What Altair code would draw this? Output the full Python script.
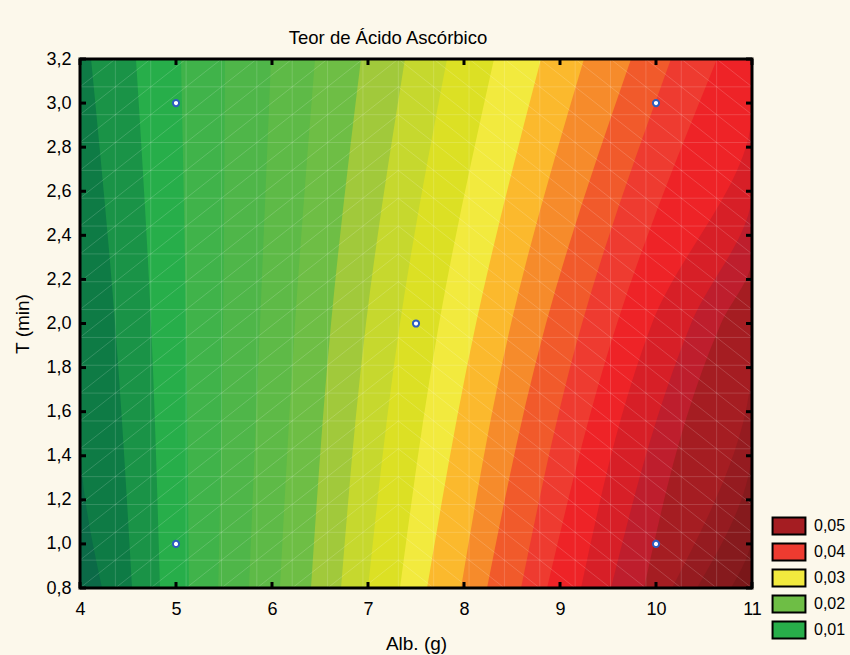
import altair as alt
import pandas as pd

# Axis ranges and tick values
x_domain = [4, 11]
t_domain = [0.8, 3.2]
x_ticks = [4, 5, 6, 7, 8, 9, 10, 11]
t_ticks = [0.8, 1.0, 1.2, 1.4, 1.6, 1.8, 2.0, 2.2, 2.4, 2.6, 2.8, 3.0, 3.2]

# Contour levels of ascorbic acid content; each band starts at its boundary line
band_levels = [0.0025, 0.005, 0.0075, 0.01, 0.0125, 0.015, 0.0175, 0.02,
               0.0225, 0.025, 0.0275, 0.03, 0.0325, 0.035, 0.0375, 0.04,
               0.0425, 0.045, 0.0475, 0.05, 0.0525, 0.055, 0.0575]
band_colors = ["#0B6A47", "#0E7B45", "#1A9347", "#27AE4A", "#40B34A", "#4FB649",
               "#5EBA47", "#6EBE45", "#A1C93B", "#C6D82E", "#DCE024", "#F2EA3E",
               "#FBB92D", "#F68B2B", "#F15A2B", "#EE3B30", "#EE2327", "#D71F27",
               "#BE1E2D", "#A51D22", "#951B20", "#861A1D", "#7A1719"]

# Boundary lines of each band: T (min) samples and the Alb. (g) position at each
boundary_t = [
    [0.8, 3.2],
    [0.8, 1.5, 3.2],
    [0.8, 2.0, 3.2],
    [0.8, 2.0, 3.2],
    [0.8, 2.0, 3.2],
    [0.8, 2.0, 3.2],
    [0.8, 2.0, 3.2],
    [0.8, 2.0, 3.2],
    [0.8, 2.0, 3.2],
    [0.8, 2.0, 3.2],
    [0.8, 2.0, 3.2],
    [0.8, 2.0, 3.2],
    [0.8, 2.0, 3.2],
    [0.8, 2.0, 3.2],
    [0.8, 2.0, 3.2],
    [0.8, 2.0, 3.2],
    [0.8, 2.0, 3.2],
    [0.8, 2.0, 2.97, 3.2],
    [0.8, 2.0, 2.6, 3.2],
    [0.8, 2.0, 2.3, 3.2],
    [0.8, 1.85, 3.2],
    [0.8, 1.45, 3.2],
    [0.8, 1.05, 3.2],
]
boundary_x = [
    [4.0, 4.0],
    [4.229, 4.0, 4.0],
    [4.542, 4.365, 4.115],
    [4.833, 4.740, 4.583],
    [5.135, 5.104, 5.052],
    [5.44, 5.49, 5.51],
    [5.76, 5.875, 5.99],
    [6.083, 6.24, 6.448],
    [6.406, 6.615, 6.927],
    [6.719, 6.979, 7.385],
    [7.0, 7.333, 7.823],
    [7.333, 7.74, 8.3125],
    [7.615, 8.125, 8.802],
    [7.969, 8.49, 9.25],
    [8.24, 8.854, 9.74],
    [8.594, 9.229, 10.156],
    [8.865, 9.594, 10.635],
    [9.219, 9.958, 11.0, 11.0],
    [9.531, 10.365, 11.0, 11.0],
    [9.875, 10.677, 11.0, 11.0],
    [10.167, 11.0, 11.0],
    [10.427, 11.0, 11.0],
    [10.781, 11.0, 11.0],
]

# Experimental design points
design_alb = [5, 5, 7.5, 10, 10]
design_t = [1.0, 3.0, 2.0, 1.0, 3.0]

# Legend entries
legend_labels = ["0,05", "0,04", "0,03", "0,02", "0,01"]
legend_colors = ["#A51D22", "#EE3B30", "#F2EA3E", "#6EBE45", "#27AE4A"]

W, H = 672, 529
FONT = "Liberation Sans"
mesh_n = 19  # surface mesh divisions in each direction

xscale = alt.Scale(domain=x_domain, nice=False, zero=False)
yscale = alt.Scale(domain=t_domain, nice=False, zero=False)

x_axis = alt.Axis(values=x_ticks, format="d", title="Alb. (g)", ticks=False,
                  domain=False, grid=False, labelPadding=12, labelFontSize=18,
                  labelFont=FONT, labelColor="black", titleFont=FONT,
                  titleFontSize=19, titleFontWeight="normal", titleColor="black",
                  titlePadding=16, labelFlush=False, labelOverlap=False)
y_axis = alt.Axis(values=t_ticks, title="T (min)", ticks=False, domain=False,
                  grid=False, labelPadding=9, labelFontSize=18, labelFont=FONT,
                  labelColor="black",
                  labelExpr="replace(format(datum.value, '.1f'), '.', ',')",
                  titleFont=FONT, titleFontSize=19, titleFontWeight="normal",
                  titleColor="black", titlePadding=13, labelFlush=False,
                  labelOverlap=False)


def X(field):
    return alt.X(field, scale=xscale, axis=x_axis)


def Y(field):
    return alt.Y(field, scale=yscale, axis=y_axis)


layers = []
# filled contour bands, each one covering from its boundary to the right edge
for col, ts, xs in zip(band_colors, boundary_t, boundary_x):
    df = pd.DataFrame({"T": ts, "alb": xs})
    layers.append(
        alt.Chart(df).mark_area(orient="horizontal", interpolate="monotone",
                                color=col, clip=True).encode(
            y=Y("T:Q"), x=X("alb:Q"), x2=alt.datum(11))
    )

# light surface mesh lines
mesh_x = [x_domain[0] + k * (x_domain[1] - x_domain[0]) / mesh_n for k in range(mesh_n + 1)]
mesh_t = [t_domain[0] + k * (t_domain[1] - t_domain[0]) / mesh_n for k in range(mesh_n + 1)]
mesh_style = dict(color="white", opacity=0.16, strokeWidth=1)
layers.append(alt.Chart(pd.DataFrame({"alb": mesh_x[1:-1]})).mark_rule(**mesh_style).encode(
    x=X("alb:Q"), y=alt.value(0), y2=alt.value(H)))
layers.append(alt.Chart(pd.DataFrame({"T": mesh_t[1:-1]})).mark_rule(**mesh_style).encode(
    y=Y("T:Q"), x=alt.value(0), x2=alt.value(W)))
diag = []
for i in range(mesh_n):
    for j in range(mesh_n):
        if i < 9:
            diag.append((mesh_x[i], mesh_t[j], mesh_x[i + 1], mesh_t[j + 1]))
        else:
            diag.append((mesh_x[i], mesh_t[j + 1], mesh_x[i + 1], mesh_t[j]))
diag_df = pd.DataFrame(diag, columns=["x1", "t1", "x2", "t2"])
layers.append(alt.Chart(diag_df).mark_rule(**mesh_style).encode(
    x=X("x1:Q"), x2="x2:Q", y=Y("t1:Q"), y2="t2:Q"))

# design points
pts = pd.DataFrame({"alb": design_alb, "T": design_t})
layers.append(alt.Chart(pts).mark_point(shape="circle", filled=True, fill="white",
                                        stroke="#2D5DBF", strokeWidth=2,
                                        size=38, opacity=1).encode(
    x=X("alb:Q"), y=Y("T:Q")))

# inward tick marks on all four sides
tick_style = dict(color="black", strokeWidth=3)
xt = pd.DataFrame({"alb": x_ticks})
tt = pd.DataFrame({"T": t_ticks})
layers.append(alt.Chart(xt).mark_rule(**tick_style).encode(
    x=X("alb:Q"), y=alt.value(H), y2=alt.value(H - 6)))
layers.append(alt.Chart(xt).mark_rule(**tick_style).encode(
    x=X("alb:Q"), y=alt.value(0), y2=alt.value(6)))
layers.append(alt.Chart(tt).mark_rule(**tick_style).encode(
    y=Y("T:Q"), x=alt.value(0), x2=alt.value(6)))
layers.append(alt.Chart(tt).mark_rule(**tick_style).encode(
    y=Y("T:Q"), x=alt.value(W), x2=alt.value(W - 6)))

# plot frame
layers.append(alt.Chart(pd.DataFrame({"a": [0]})).mark_rect(
    filled=False, stroke="black", strokeWidth=3).encode(
    x=alt.value(0), x2=alt.value(W), y=alt.value(0), y2=alt.value(H)))

# legend (symbols only, the layer itself is invisible)
leg = pd.DataFrame({"label": legend_labels})
layers.append(alt.Chart(leg).mark_square(opacity=0).encode(
    x=alt.value(0), y=alt.value(0),
    color=alt.Color("label:N", sort=legend_labels,
                    scale=alt.Scale(domain=legend_labels, range=legend_colors),
                    legend=alt.Legend(orient="none", legendX=696, legendY=454,
                                      title=None, padding=0, rowPadding=0,
                                      symbolType="M-1.4,-0.72H1.4V0.72H-1.4Z",
                                      symbolSize=552, symbolStrokeColor="black",
                                      symbolStrokeWidth=2, symbolOpacity=1,
                                      labelFont=FONT, labelFontSize=16,
                                      labelColor="black", labelOffset=12))))

chart = alt.layer(*layers).properties(
    width=W, height=H,
    title=alt.TitleParams(text="Teor de Ácido Ascórbico", font=FONT, fontSize=18.5,
                          fontWeight="normal", color="black", anchor="middle",
                          dx=-28, offset=3),
    autosize=alt.AutoSizeParams(type="none"),
    padding={"left": 80, "top": 59, "right": 98, "bottom": 67},
).configure(background="#FCF8EB").configure_view(stroke=None)

chart.save("out.html", embed_options={"renderer": "svg", "actions": False})
